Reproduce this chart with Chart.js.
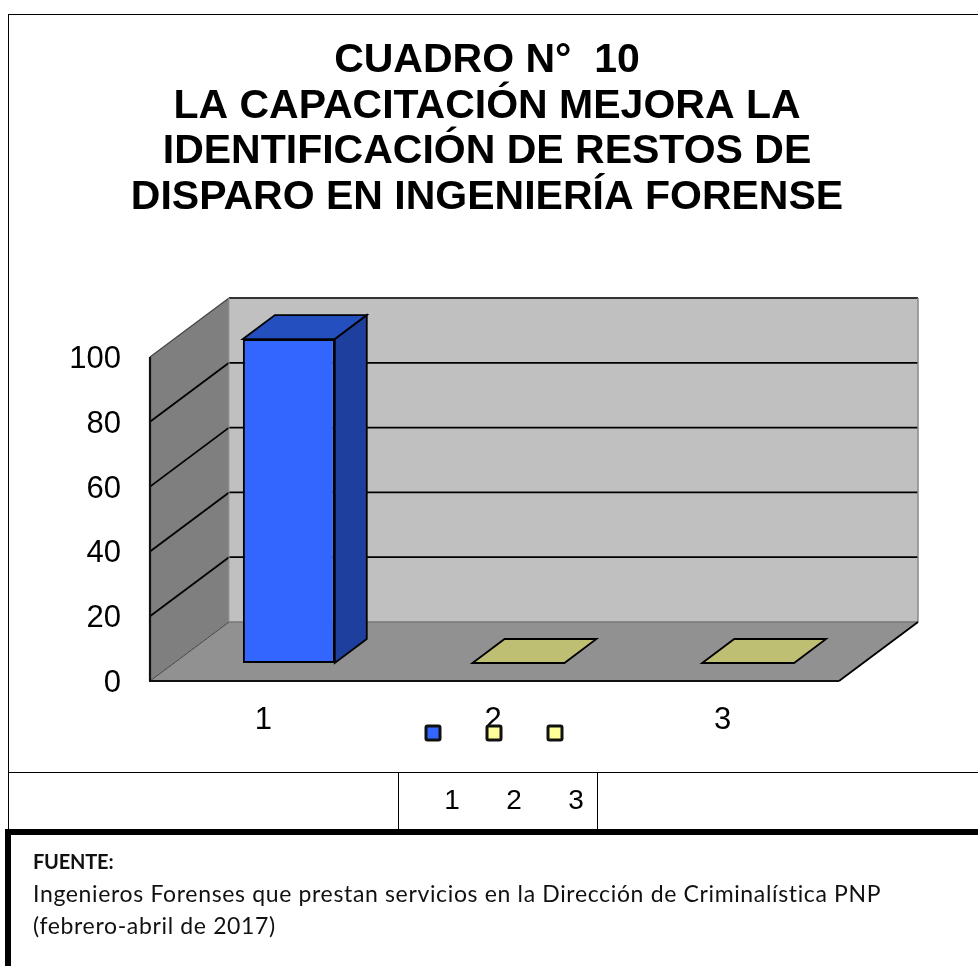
<!DOCTYPE html>
<html lang="es">
<head>
    <meta charset="UTF-8">
    <title>Cuadro 10</title>
    <script src="https://cdn.jsdelivr.net/npm/chart.js"></script>
    <style>
        html, body {
            margin: 0;
            padding: 0;
            background: white;
            overflow: hidden;
        }
        #page {
            position: relative;
            width: 978px;
            height: 966px;
            overflow: hidden;
        }
        canvas {
            position: absolute;
            left: 0;
            top: 0;
        }
        .rule {
            position: absolute;
            background: black;
        }
        #fuente {
            position: absolute;
            left: 33px;
            top: 845px;
            font-family: Lato, sans-serif;
            font-size: 23px;
            letter-spacing: 0.65px;
            line-height: 32px;
            color: #111;
            white-space: nowrap;
        }
        #fuente b {
            display: block;
            font-size: 20px;
            letter-spacing: -0.2px;
        }
    </style>
</head>
<body>
    <div id="page">
        <canvas id="chart" width="978" height="966"></canvas>
        <!-- table rules round the chart -->
        <div class="rule" style="left:8px;top:14px;width:970px;height:1px"></div>
        <div class="rule" style="left:8px;top:14px;width:1px;height:816px"></div>
        <div class="rule" style="left:8px;top:772px;width:970px;height:1px"></div>
        <div class="rule" style="left:398px;top:772px;width:1px;height:58px"></div>
        <div class="rule" style="left:597px;top:772px;width:1px;height:58px"></div>
        <div class="rule" style="left:5px;top:829px;width:973px;height:6px"></div>
        <div class="rule" style="left:5px;top:829px;width:6px;height:137px"></div>
        <div id="fuente">
            <b>FUENTE:</b>
            <span id="fuente1"></span><br>
            <span id="fuente2"></span>
        </div>
    </div>

    <script>
        const titleLines = [
            'CUADRO N°  10',
            'LA CAPACITACIÓN MEJORA LA',
            'IDENTIFICACIÓN DE RESTOS DE',
            'DISPARO EN INGENIERÍA FORENSE'
        ];
        const categories = ['1', '2', '3'];
        const values = [100, 0, 0];
        const legendLabels = ['1', '2', '3'];
        const sourceLines = [
            'Ingenieros Forenses que prestan servicios en la Dirección de Criminalística PNP',
            '(febrero-abril de 2017)'
        ];

        const frontColors = ['#3366FF', '#FFFF99', '#FFFF99'];
        const topColors = ['#2450BF', '#BFBF73', '#BFBF73'];
        const sideColors = ['#1F3F9F', '#BFBF73', '#BFBF73'];

        // depth of the box, and where the bars stand inside it
        const boxDx = 79, boxDy = -59;
        const barShiftX = 24, barShiftY = -18;
        const barDx = 32, barDy = -24;

        const sansFont = '"Liberation Sans", Arial, sans-serif';

        document.getElementById('fuente1').textContent = sourceLines[0];
        document.getElementById('fuente2').textContent = sourceLines[1];

        function poly(ctx, pts, fill, stroke, width) {
            ctx.beginPath();
            ctx.moveTo(pts[0][0], pts[0][1]);
            pts.slice(1).forEach(p => ctx.lineTo(p[0], p[1]));
            ctx.closePath();
            if (fill) {
                ctx.fillStyle = fill;
                ctx.fill();
            }
            if (stroke) {
                ctx.strokeStyle = stroke;
                ctx.lineWidth = width;
                ctx.stroke();
            }
        }

        function line(ctx, x1, y1, x2, y2, color, width) {
            ctx.beginPath();
            ctx.moveTo(x1, y1);
            ctx.lineTo(x2, y2);
            ctx.strokeStyle = color;
            ctx.lineWidth = width;
            ctx.stroke();
        }

        const box3d = {
            id: 'box3d',
            beforeDatasetsDraw(chart) {
                const ctx = chart.ctx;
                const a = chart.chartArea;
                const y = chart.scales.y;
                const l = a.left, r = a.right, t = a.top, b = a.bottom;
                ctx.save();
                // back wall, side wall, floor
                poly(ctx, [[l + boxDx, t + boxDy], [r + boxDx, t + boxDy], [r + boxDx, b + boxDy], [l + boxDx, b + boxDy]], '#C0C0C0');
                poly(ctx, [[l, t], [l + boxDx, t + boxDy], [l + boxDx, b + boxDy], [l, b]], '#7F7F7F');
                poly(ctx, [[l, b], [r, b], [r + boxDx, b + boxDy], [l + boxDx, b + boxDy]], '#919191');

                // gridlines run along the side wall and across the back
                y.ticks.forEach(tick => {
                    if (tick.value === 0 || tick.value === y.max) return;
                    const py = y.getPixelForValue(tick.value);
                    line(ctx, l, py, l + boxDx, py + boxDy, '#000', 1.8);
                    line(ctx, l + boxDx, py + boxDy, r + boxDx, py + boxDy, '#000', 1.8);
                });

                line(ctx, l, t, l + boxDx, t + boxDy, '#444', 1.2);
                line(ctx, l + boxDx, t + boxDy, r + boxDx, t + boxDy, '#333', 2);
                line(ctx, r + boxDx, t + boxDy, r + boxDx, b + boxDy, '#888', 1.5);
                line(ctx, l + boxDx, b + boxDy, r + boxDx, b + boxDy, '#777', 1.5);
                line(ctx, l + boxDx, t + boxDy, l + boxDx, b + boxDy, '#999', 1);
                line(ctx, l, b, l + boxDx, b + boxDy, '#444', 1);
                line(ctx, r, b, r + boxDx, b + boxDy, '#000', 1.8);
                line(ctx, l, t, l, b, '#111', 2.2);
                line(ctx, l - 1, b, r, b, '#111', 2.2);
                ctx.restore();
            },
            beforeDatasetDraw(chart) {
                chart.ctx.save();
                chart.ctx.translate(barShiftX, barShiftY);
            },
            afterDatasetDraw(chart, args) {
                const ctx = chart.ctx;
                // still shifted: add the top and side faces to each bar
                args.meta.data.forEach((bar, i) => {
                    const p = bar.getProps(['x', 'y', 'base', 'width'], true);
                    const x1 = p.x - p.width / 2, x2 = p.x + p.width / 2;
                    if (p.base - p.y > 0) {
                        poly(ctx, [[x2, p.y], [x2 + barDx, p.y + barDy], [x2 + barDx, p.base + barDy], [x2, p.base]], sideColors[i], '#000', 1.8);
                    }
                    poly(ctx, [[x1, p.y], [x1 + barDx, p.y + barDy], [x2 + barDx, p.y + barDy], [x2, p.y]], topColors[i], '#000', 1.8);
                });
                ctx.restore();
            },
            afterDraw(chart) {
                const ctx = chart.ctx;
                ctx.save();
                // legend swatches sit in the chart, their numbers in the table row below
                const swatchX = [433, 494, 555];
                const numberX = [452, 514, 576];
                legendLabels.forEach((label, i) => {
                    ctx.beginPath();
                    ctx.roundRect(swatchX[i] - 7, 726, 14, 14, 1.5);
                    ctx.fillStyle = frontColors[i];
                    ctx.fill();
                    ctx.strokeStyle = '#111';
                    ctx.lineWidth = 3;
                    ctx.stroke();
                    ctx.fillStyle = '#000';
                    ctx.font = '28px ' + sansFont;
                    ctx.textAlign = 'center';
                    ctx.textBaseline = 'middle';
                    ctx.fillText(label, numberX[i], 801);
                });
                ctx.restore();
            }
        };

        new Chart(document.getElementById('chart'), {
            type: 'bar',
            data: {
                labels: categories,
                datasets: [{
                    data: values,
                    backgroundColor: frontColors,
                    borderColor: '#000',
                    borderWidth: 2,
                    borderSkipped: false,
                    categoryPercentage: 1,
                    barPercentage: 0.4,
                    clip: false
                }]
            },
            options: {
                responsive: false,
                animation: false,
                layout: { padding: { left: 0, right: 4, top: 0, bottom: 0 } },
                plugins: {
                    legend: { display: false },
                    tooltip: { enabled: false },
                    title: {
                        display: true,
                        text: titleLines,
                        color: '#000',
                        font: { family: sansFont, size: 41, weight: 'bold', lineHeight: 1.11 },
                        padding: { top: 38, bottom: 137 }
                    }
                },
                scales: {
                    x: {
                        grid: { display: false },
                        border: { display: false },
                        ticks: { color: '#000', font: { family: sansFont, size: 31 }, padding: 13, labelOffset: -1.5 },
                        afterFit(scale) { scale.height = 285; }
                    },
                    y: {
                        min: 0,
                        max: 100,
                        grid: { display: false },
                        border: { display: false },
                        ticks: { stepSize: 20, color: '#000', font: { family: sansFont, size: 31 }, padding: 21, labelOffset: 2.5 },
                        afterFit(scale) { scale.width = 150; }
                    },
                    // empty axis that reserves the room taken by the box's depth on the right
                    spare: {
                        position: 'right',
                        grid: { display: false },
                        border: { display: false },
                        ticks: { display: false },
                        afterFit(scale) { scale.width = 135; }
                    }
                }
            },
            plugins: [box3d]
        });
    </script>
</body>
</html>
